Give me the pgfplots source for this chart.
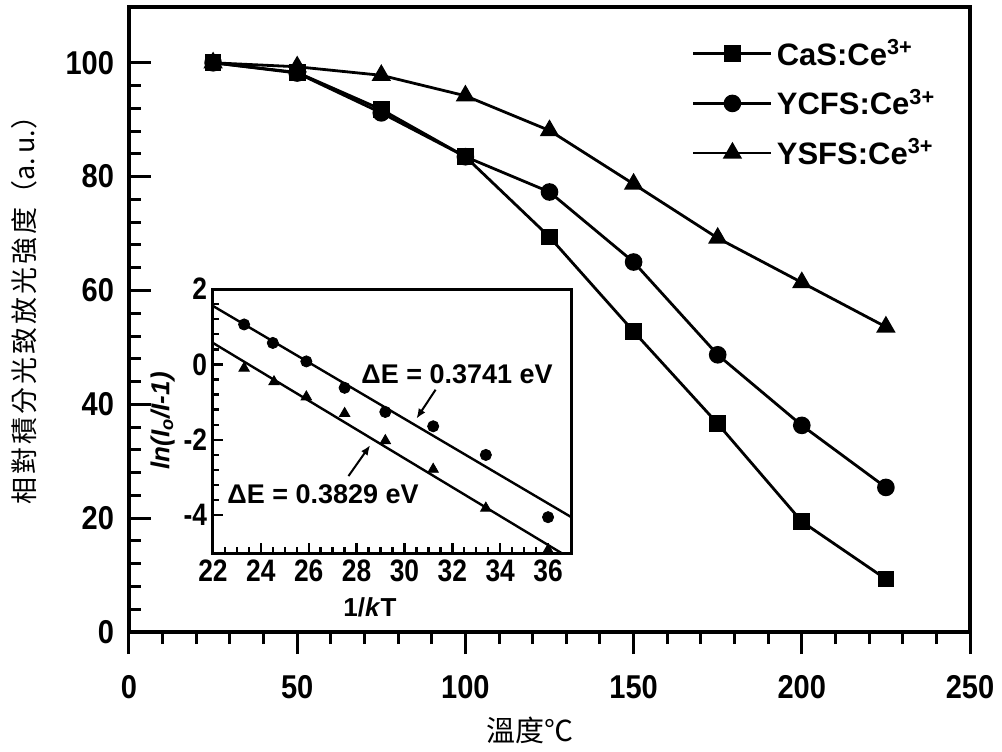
\documentclass[border=0pt]{standalone}
\usepackage{fontspec}
\setmainfont{Liberation Sans}
\newfontfamily\cjk{Noto Sans CJK TC}
\usepackage{pgfplots}
\pgfplotsset{compat=1.18}
\usetikzlibrary{arrows.meta}
\newcommand{\cs}{\hspace{1.5pt}}

\begin{document}
\begin{tikzpicture}
\useasboundingbox (-64.5pt,-59.5pt) rectangle (436.5pt,316pt);
\begin{axis}[
  at={(0pt,0pt)}, anchor=south west,
  scale only axis, width=420.5pt, height=312.5pt,
  xmin=0, xmax=250, ymin=0, ymax=109.8,
  xtick={0,50,...,250}, ytick={0,20,...,100},
  minor x tick num=4, minor y tick num=4,
  xtick pos=bottom, ytick pos=left,
  tick align=inside,
  xtick align=outside,
  major tick length=11pt, minor tick length=6pt,
  axis line style={line width=1.8pt},
  every tick/.style={line width=1.5pt, black},
  /pgf/number format/assume math mode=true,
  tick label style={font=\bfseries\fontsize{16.5}{19}\selectfont, xscale=0.88},
  xticklabel style={yshift=-7pt},
  yticklabel style={xshift=-5pt},
  xlabel={\cjk\fontsize{14.5}{16}\selectfont 溫度℃},
  xlabel style={at={(axis description cs:0.477,-0.157)}, anchor=center},
  ylabel={\cjk\fontsize{13.5}{15}\selectfont 相\cs 對\cs 積\cs 分\cs 光\cs 致\cs 放\cs 光\cs 強\cs 度（a.\,u.）},
  ylabel style={at={(axis description cs:-0.124,0.525)}, anchor=center},
  legend style={at={(axis description cs:0.669,0.955)}, anchor=north west,
    draw=none, fill=none, inner sep=0pt, row sep=6.5pt,
    font=\bfseries\fontsize{15.5}{18}\selectfont, cells={anchor=west}},
  legend image code/.code={\draw[mark repeat=2,mark phase=2,#1] plot coordinates {(0pt,0pt) (19.5pt,0pt) (39pt,0pt)};},
]
\addplot[black, line width=1.4pt, mark=square*, mark size=3.5pt, mark options={solid}] coordinates {
 (25,100) (50,98.3) (75,91.8) (100,83.5) (125,69.4) (150,52.8) (175,36.6) (200,19.4) (225,9.3)};
\addlegendentry{CaS:Ce\textsuperscript{3+}}
\addplot[black, line width=1.4pt, mark=*, mark size=3.7pt, mark options={solid}] coordinates {
 (25,100) (50,98.2) (75,91.2) (100,83.5) (125,77.3) (150,65.0) (175,48.7) (200,36.3) (225,25.4)};
\addlegendentry{YCFS:Ce\textsuperscript{3+}}
\addplot[black, line width=1.4pt, mark=triangle*, mark size=4.2pt, mark options={solid}] coordinates {
 (25,100) (50,99.3) (75,97.8) (100,94.2) (125,88.1) (150,78.7) (175,69.2) (200,61.4) (225,53.6)};
\addlegendentry{YSFS:Ce\textsuperscript{3+}}
\end{axis}

\begin{axis}[
  at={(42pt,39.5pt)}, anchor=south west,
  scale only axis, width=179.5pt, height=132pt,
  axis background/.style={fill=white},
  xmin=22, xmax=37, ymin=-5, ymax=2,
  xtick={22,24,...,36}, ytick={-4,-2,0,2},
  minor x tick num=3, minor y tick num=4,
  xtick pos=bottom, ytick pos=left,
  tick align=inside,
  major tick length=5pt, minor tick length=3pt,
  axis line style={line width=1.5pt},
  every tick/.style={line width=1.2pt, black},
  /pgf/number format/assume math mode=true,
  tick label style={font=\bfseries\fontsize{15.5}{18}\selectfont, xscale=0.85},
  xlabel={\bfseries\fontsize{13}{15}\selectfont 1/\textit{k}T},
  xlabel style={at={(axis description cs:0.437,-0.205)}, anchor=center},
  ylabel={\bfseries\itshape\fontsize{13}{15}\selectfont ln(I\textsubscript{o}/I-1)},
  ylabel style={at={(axis description cs:-0.14,0.5)}, anchor=center},
  clip=true,
]
\addplot[black, line width=1.2pt, no marks] coordinates {(22,1.55) (37,-4.06)};
\addplot[black, line width=1.2pt, no marks] coordinates {(22,0.57) (37,-5.17)};
\addplot[black, only marks, mark=*, mark size=2.8pt] coordinates {
 (23.3,1.06) (24.5,0.57) (25.9,0.08) (27.5,-0.62) (29.2,-1.26) (31.2,-1.64) (33.4,-2.40) (36.0,-4.05)};
\addplot[black, only marks, mark=triangle*, mark size=3pt] coordinates {
 (23.3,-0.1) (24.55,-0.46) (25.9,-0.86) (27.5,-1.3) (29.2,-2.02) (31.2,-2.78) (33.4,-3.81) (36.0,-4.92)};
\node[font=\bfseries\fontsize{13.5}{15}\selectfont] at (axis cs:32.2,-0.27) {ΔE = 0.3741 eV};
\node[font=\bfseries\fontsize{13.5}{15}\selectfont] at (axis cs:26.6,-3.45) {ΔE = 0.3829 eV};
\draw[-{Latex[length=5pt,width=4pt]}, line width=1pt] (axis cs:31.3,-0.67) -- (axis cs:30.5,-1.44);
\draw[-{Latex[length=5pt,width=4pt]}, line width=1pt] (axis cs:27.66,-2.96) -- (axis cs:28.57,-2.14);
\end{axis}
\end{tikzpicture}
\end{document}
